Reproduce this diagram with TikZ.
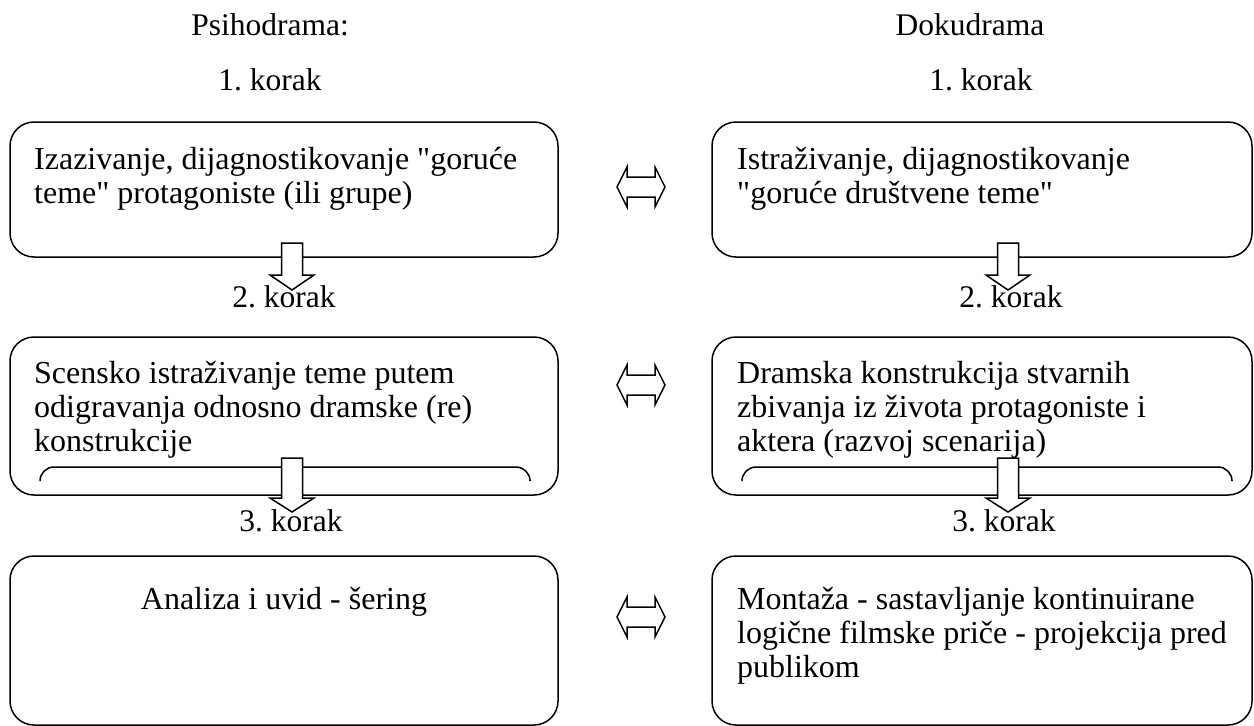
\documentclass[tikz,border=0pt]{standalone}
\usepackage{fontspec}
\newfontfamily\tnr{Liberation Serif}
\frenchspacing
\begin{document}
\begin{tikzpicture}[x=1pt,y=-1pt,
  box/.style={draw, line width=1.5pt, rounded corners=24pt, inner sep=0pt},
  txt/.style={font=\tnr\fontsize{32}{34}\selectfont, align=left, anchor=base west, inner sep=0pt},
  lbl/.style={font=\tnr\fontsize{31.5}{34}\selectfont, anchor=base, inner sep=0pt},
  blockarrow/.style={draw, line width=1.5pt, fill=white, line join=miter},
  innerline/.style={draw, line width=1.5pt, rounded corners=14pt}]
\useasboundingbox (0,0) rectangle (1254,726);
% boxes
\node[box, minimum width=548pt, minimum height=135pt] (L1) at (284,189.5) {};
\node[box, minimum width=548pt, minimum height=158pt] (L2) at (284,416) {};
\node[box, minimum width=548pt, minimum height=169pt] (L3) at (284,640.5) {};
\node[box, minimum width=540pt, minimum height=135pt] (R1) at (982,189.5) {};
\node[box, minimum width=540pt, minimum height=158pt] (R2) at (982,416) {};
\node[box, minimum width=540pt, minimum height=169pt] (R3) at (982,640.5) {};
% inner lines
\draw[innerline] (40,480) -- (40,467) -- (530,467) -- (530,480);
\draw[innerline] (742,480) -- (742,467) -- (1232,467) -- (1232,480);
% texts (base anchor = baseline of last line)
\node[txt] (tL1) at (34,203) {Izazivanje, dijagnostikovanje "goruće\\teme" protagoniste (ili grupe)};
\node[txt] (tR1) at (737,203) {Istraživanje, dijagnostikovanje\\"goruće društvene teme"};
\node[txt] (tL2) at (34,451) {Scensko istraživanje teme putem\\odigravanja odnosno dramske (re)\\konstrukcije};
\node[txt] (tR2) at (737,451) {Dramska konstrukcija stvarnih\\zbivanja iz života protagoniste i\\aktera (razvoj scenarija)};
\node[txt, anchor=base] (tL3) at (284,609) {Analiza i uvid - šering};
\node[txt] (tR3) at (737,677) {Montaža - sastavljanje kontinuirane\\logične filmske priče - projekcija pred\\publikom};
% down block arrows
\foreach \cx/\ytop/\yh/\yt in {292/243/275/290, 292/458/498/512, 1008/243/275/290, 1008/458/498/512}{
  \draw[blockarrow] (\cx-10.5,\ytop) -- (\cx+10.5,\ytop) -- (\cx+10.5,\yh) -- (\cx+22,\yh) -- (\cx,\yt) -- (\cx-22,\yh) -- (\cx-10.5,\yh) -- cycle;
}
% double block arrows
\foreach \cy in {187,385,617}{
  \draw[blockarrow] (617,\cy) -- (627,\cy-20) -- (627,\cy-10) -- (655,\cy-10) -- (655,\cy-20) -- (665,\cy) -- (655,\cy+20) -- (655,\cy+10) -- (627,\cy+10) -- (627,\cy+20) -- cycle;
}
% labels
\node[lbl] (hL) at (270,35) {Psihodrama:};
\node[lbl] (hR) at (970,35) {Dokudrama};
\node[lbl] (k1L) at (270,90) {1. korak};
\node[lbl] (k1R) at (981,90) {1. korak};
\node[lbl] (k2L) at (284,307) {2. korak};
\node[lbl] (k2R) at (1011,307) {2. korak};
\node[lbl] (k3L) at (291,531) {3. korak};
\node[lbl] (k3R) at (1004,531) {3. korak};
\end{tikzpicture}
\end{document}
